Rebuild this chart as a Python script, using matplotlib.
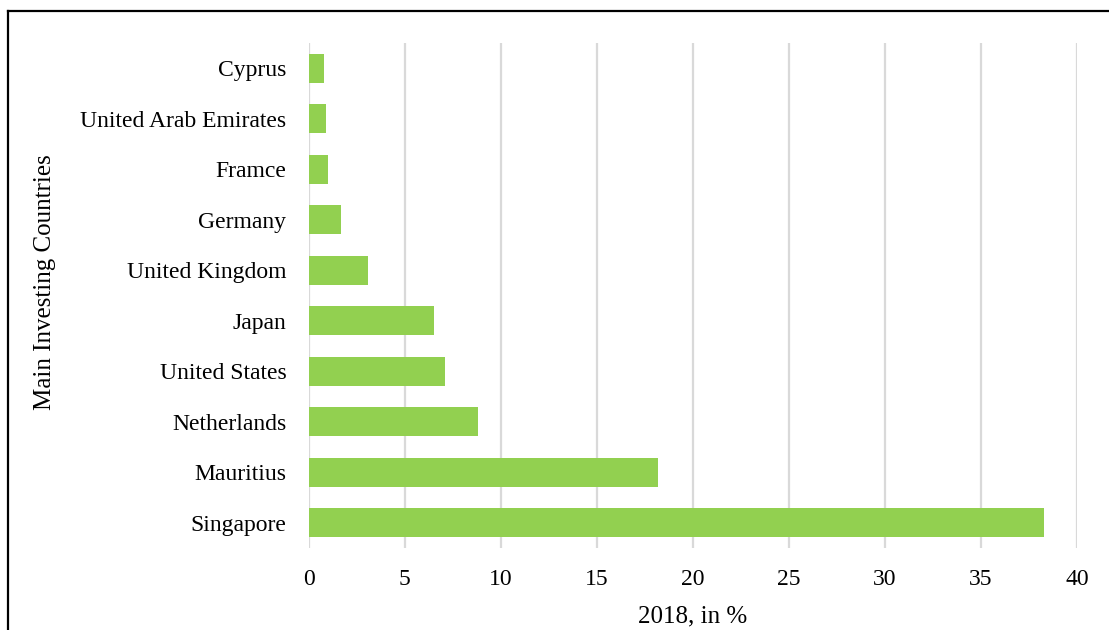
import matplotlib
matplotlib.use("Agg")
import matplotlib.pyplot as plt
from matplotlib.lines import Line2D

countries = ["Singapore", "Mauritius", "Netherlands", "United States", "Japan",
             "United Kingdom", "Germany", "Framce", "United Arab Emirates", "Cyprus"]
shares = [38.3, 18.2, 8.8, 7.1, 6.5, 3.1, 1.7, 1.0, 0.9, 0.8]
x_ticks = [0, 5, 10, 15, 20, 25, 30, 35, 40]

plt.rcParams["font.family"] = ["Liberation Serif", "DejaVu Serif"]

W, H = 1109, 630
fig = plt.figure(figsize=(W / 100, H / 100), dpi=100)
ax = fig.add_axes([308.7 / W, 1 - 548 / H, (1077 - 308.7) / W, (548 - 43) / H])

ax.barh(range(len(countries)), shares, height=0.58, color="#92D050", zorder=3)

ax.set_xlim(0, 40)
ax.set_ylim(-0.5, len(countries) - 0.5)
ax.set_xticks(x_ticks)
ax.set_xticklabels([str(t) for t in x_ticks], fontsize=17)
ax.set_yticks(range(len(countries)))
ax.set_yticklabels(countries, fontsize=17)
ax.tick_params(axis="x", length=0, pad=15)
ax.tick_params(axis="y", length=0, pad=16)

ax.grid(axis="x", color="#D9D9D9", linewidth=1.6, zorder=0)
ax.grid(axis="y", visible=False)
for s in ax.spines.values():
    s.set_visible(False)

ax.set_xlabel("2018, in %", fontsize=18)
ax.set_ylabel("Main Investing Countries", fontsize=18)
ax.xaxis.set_label_coords(0.5, -(616 - 548) / (548 - 43), transform=ax.transAxes)
ax.xaxis.label.set_verticalalignment("center")
ax.yaxis.set_label_coords(-(308.7 - 45) / (1077 - 308.7), (548 - 282) / (548 - 43),
                          transform=ax.transAxes)
ax.yaxis.label.set_verticalalignment("center")

# frame around the chart area (top and left edges)
fig.add_artist(Line2D([8 / W, 1.0], [1 - 11 / H, 1 - 11 / H],
                      transform=fig.transFigure, color="black", linewidth=1.6))
fig.add_artist(Line2D([8 / W, 8 / W], [0.0, 1 - 11 / H],
                      transform=fig.transFigure, color="black", linewidth=1.6))

fig.savefig("out.png", dpi=100, facecolor="white")
